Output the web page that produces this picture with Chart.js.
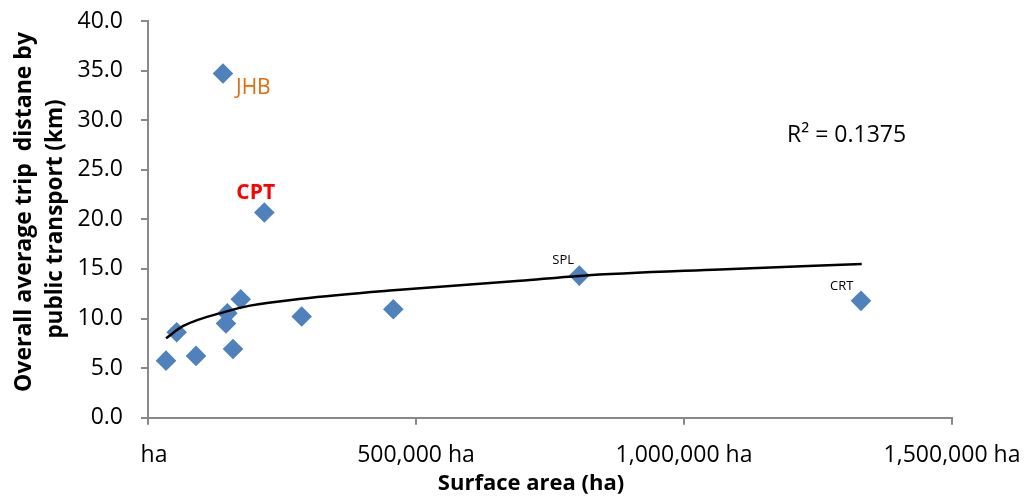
<!DOCTYPE html>
<html>
<head>
<meta charset="utf-8">
<script src="https://cdn.jsdelivr.net/npm/chart.js@4/dist/chart.umd.min.js"></script>
<style>
    body { margin: 0; background: #fff; }
    #wrap { width: 1029px; height: 497px; }
</style>
</head>
<body>
<div id="wrap"><canvas id="chart" width="1029" height="497"></canvas></div>
<script>
// surface area (ha) and average trip distance (km) per city
const surfaceArea = [33600, 53500, 89600, 139900, 145500, 148000, 158600, 173000, 217000, 286700, 457700, 804700, 1330200];
const tripDistance = [5.75, 8.62, 6.23, 34.7, 9.5, 10.53, 6.93, 11.95, 20.69, 10.2, 10.94, 14.33, 11.78];
const cityNames = ["", "", "", "JHB", "", "", "", "", "CPT", "", "", "SPL", "CRT"];

// trendline
const trendArea = [33600, 65900, 148700, 190300, 286700, 457600, 694000, 804700, 1067000, 1331500];
const trendDistance = [8.01, 9.25, 10.75, 11.3, 12.0, 12.85, 13.8, 14.3, 14.95, 15.5];

const xTickLabels = ["  ha", "500,000 ha", "1,000,000 ha", "1,500,000 ha"];
const yTickLabels = ["0.0", "5.0", "10.0", "15.0", "20.0", "25.0", "30.0", "35.0", "40.0"];

const rSquaredText = "R² = 0.1375";
const xTitle = "Surface area (ha)";
const yTitle = ["Overall average trip  distane by", "public transport (km)"];

const axisGrau = "#898989";
const fontName = "'Open Sans', sans-serif";

const labelStil = {
    JHB: { font: "21px " + fontName, color: "#E46C0A", dx: 13, dy: 20 },
    CPT: { font: "bold 21px " + fontName, color: "#FF0000", dx: -28, dy: -14 },
    SPL: { font: "13px " + fontName, color: "#000", dx: -27, dy: -12 },
    CRT: { font: "13px " + fontName, color: "#000", dx: -31, dy: -11 }
};

const textPlugin = {
    id: "texte",
    afterDatasetsDraw(chart) {
        const ctx = chart.ctx;
        const xs = chart.scales.x;
        const ys = chart.scales.y;
        ctx.save();
        ctx.textBaseline = "alphabetic";
        ctx.textAlign = "left";

        cityNames.forEach((name, i) => {
            if (!name) return;
            const st = labelStil[name];
            ctx.font = st.font;
            ctx.fillStyle = st.color;
            ctx.fillText(name, xs.getPixelForValue(surfaceArea[i]) + st.dx, ys.getPixelForValue(tripDistance[i]) + st.dy);
        });

        ctx.font = "23px " + fontName;
        ctx.fillStyle = "#000";
        ctx.fillText(rSquaredText, 787, 142);

        // axis titles
        ctx.font = "bold 22px " + fontName;
        ctx.textAlign = "center";
        ctx.fillText(xTitle, 531, 490);

        ctx.font = "bold 23px " + fontName;
        ctx.save();
        ctx.translate(30.5, 212);
        ctx.rotate(-Math.PI / 2);
        ctx.fillText(yTitle[0], 0, 0);
        ctx.restore();

        ctx.font = "bold 22.5px " + fontName;
        ctx.save();
        ctx.translate(62, 219);
        ctx.rotate(-Math.PI / 2);
        ctx.fillText(yTitle[1], 0, 0);
        ctx.restore();

        ctx.restore();
    }
};

Chart.defaults.font.family = fontName;
Chart.defaults.color = "#000";

const ctx = document.getElementById("chart").getContext("2d");
const chart = new Chart(ctx, {
    type: "scatter",
    data: {
        datasets: [
            {
                label: "Trendline",
                type: "line",
                data: trendArea.map((a, i) => ({ x: a, y: trendDistance[i] })),
                borderColor: "#000",
                borderWidth: 2.5,
                pointRadius: 0,
                fill: false,
                cubicInterpolationMode: "monotone",
                order: 0
            },
            {
                label: "Cities",
                data: surfaceArea.map((a, i) => ({ x: a, y: tripDistance[i] })),
                pointStyle: "rectRot",
                pointRadius: 10.3,
                pointHoverRadius: 10.3,
                backgroundColor: "#4F81BD",
                borderColor: "#4F81BD",
                borderWidth: 0,
                order: 1
            }
        ]
    },
    options: {
        responsive: false,
        devicePixelRatio: 1,
        animation: false,
        layout: { padding: { top: 21, right: 77, left: 0, bottom: 0 } },
        plugins: {
            legend: { display: false },
            tooltip: { enabled: false }
        },
        scales: {
            x: {
                type: "linear",
                min: 0,
                max: 1500000,
                afterFit: s => {
                    s.height = 79.3;
                    s.paddingLeft = 0;
                    s.paddingRight = 0;
                },
                afterBuildTicks: s => { s.ticks = xTickLabels.map((t, i) => ({ value: i * 500000 })); },
                ticks: {
                    font: { size: 23 },
                    padding: 17,
                    maxRotation: 0,
                    callback: (v, i) => xTickLabels[i]
                },
                grid: { drawOnChartArea: false, drawTicks: true, tickLength: 7, color: axisGrau, lineWidth: 2 },
                border: { display: true, color: axisGrau, width: 2 }
            },
            y: {
                min: 0,
                max: 40,
                afterFit: s => {
                    s.width = 148;
                    s.paddingTop = 0;
                    s.paddingBottom = 0;
                },
                afterBuildTicks: s => { s.ticks = yTickLabels.map((t, i) => ({ value: i * 5 })); },
                ticks: {
                    font: { size: 23 },
                    padding: 18,
                    callback: (v, i) => yTickLabels[i]
                },
                grid: { drawOnChartArea: false, drawTicks: true, tickLength: 7, color: axisGrau, lineWidth: 2 },
                border: { display: true, color: axisGrau, width: 2 }
            }
        }
    },
    plugins: [textPlugin]
});
</script>
</body>
</html>
